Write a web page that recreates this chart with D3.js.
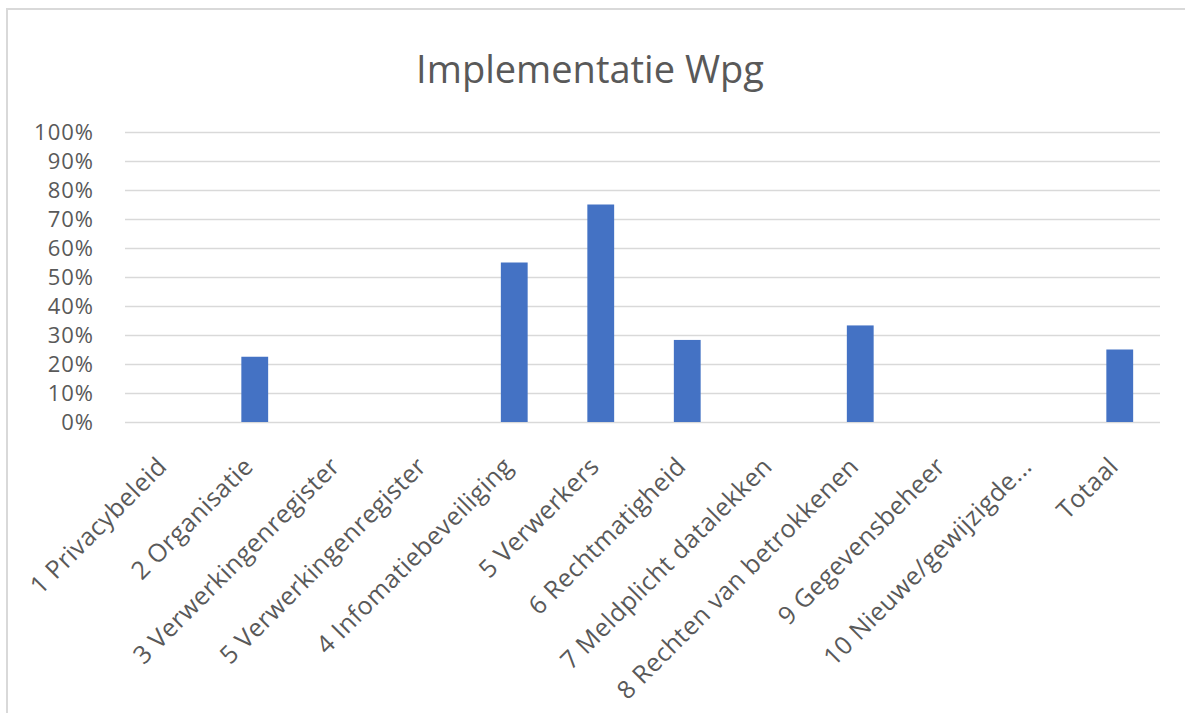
<!DOCTYPE html>
<html>
<head>
<meta charset="utf-8">
<script src="https://cdn.jsdelivr.net/npm/d3@7"></script>
<style>
  body { margin: 0; background: #fff; }
  svg { display: block; }
</style>
</head>
<body>
<svg id="chart" width="1185" height="713"></svg>
<script>
var categories = [
    "1 Privacybeleid",
    "2 Organisatie",
    "3 Verwerkingenregister",
    "5 Verwerkingenregister",
    "4 Infomatiebeveiliging",
    "5 Verwerkers",
    "6 Rechtmatigheid",
    "7 Meldplicht datalekken",
    "8 Rechten van betrokkenen",
    "9 Gegevensbeheer",
    "10 Nieuwe/gewijzigde...",
    "Totaal"
];
var values = [0, 0.225, 0, 0, 0.55, 0.75, 0.283, 0, 0.333, 0, 0, 0.25];
var yTicks = [0, 0.1, 0.2, 0.3, 0.4, 0.5, 0.6, 0.7, 0.8, 0.9, 1];
var chartTitle = "Implementatie Wpg";

var svg = d3.select("#chart");
var font = "'Open Sans', 'Liberation Sans', sans-serif";
var textColor = "#595959";

// chart frame (only top and left edges are visible in the shot)
svg.append("path")
    .attr("d", "M7,713 L7,9 L1185,9")
    .attr("fill", "none")
    .attr("stroke", "#d9d9d9")
    .attr("stroke-width", 2);

var plotLeft = 125, plotRight = 1163, plotTop = 132, plotBottom = 422;

var x = d3.scaleBand()
    .domain(categories)
    .range([plotLeft, plotRight])
    .paddingInner(0.69)
    .paddingOuter(0.345);

var y = d3.scaleLinear()
    .domain([0, 1])
    .range([plotBottom, plotTop]);

svg.append("text")
    .text(chartTitle)
    .attr("x", 590)
    .attr("y", 83)
    .attr("text-anchor", "middle")
    .attr("font-family", font)
    .attr("font-size", 38)
    .attr("fill", textColor);

// gridlines + y labels
var yAxis = svg.append("g")
    .attr("transform", "translate(" + plotLeft + ",0)")
    .call(d3.axisLeft(y)
        .tickValues(yTicks)
        .tickFormat(d3.format(".0%"))
        .tickSize(-(plotRight - plotLeft - 3))
        .tickPadding(31));
yAxis.select(".domain").remove();
yAxis.selectAll(".tick line")
    .attr("stroke", "#d9d9d9")
    .attr("stroke-width", 1.5);
yAxis.selectAll(".tick text")
    .attr("font-family", font)
    .attr("font-size", 22)
    .attr("letter-spacing", 1)
    .attr("fill", textColor);

svg.append("g")
    .selectAll("rect")
    .data(values)
    .enter()
    .append("rect")
    .attr("x", function(d, i) { return x(categories[i]); })
    .attr("y", function(d) { return y(d); })
    .attr("width", x.bandwidth())
    .attr("height", function(d) { return plotBottom - y(d); })
    .attr("fill", "#4472c4");

// rotated category labels
var xAxis = svg.append("g")
    .attr("transform", "translate(0," + plotBottom + ")")
    .call(d3.axisBottom(x).tickSize(0).tickPadding(0));
xAxis.select(".domain").remove();
xAxis.selectAll(".tick text")
    .attr("font-family", font)
    .attr("font-size", 25)
    .attr("letter-spacing", 0.4)
    .attr("fill", textColor)
    .attr("text-anchor", "end")
    .attr("dy", null)
    .attr("transform", "translate(0,46) rotate(-45)");
</script>
</body>
</html>
